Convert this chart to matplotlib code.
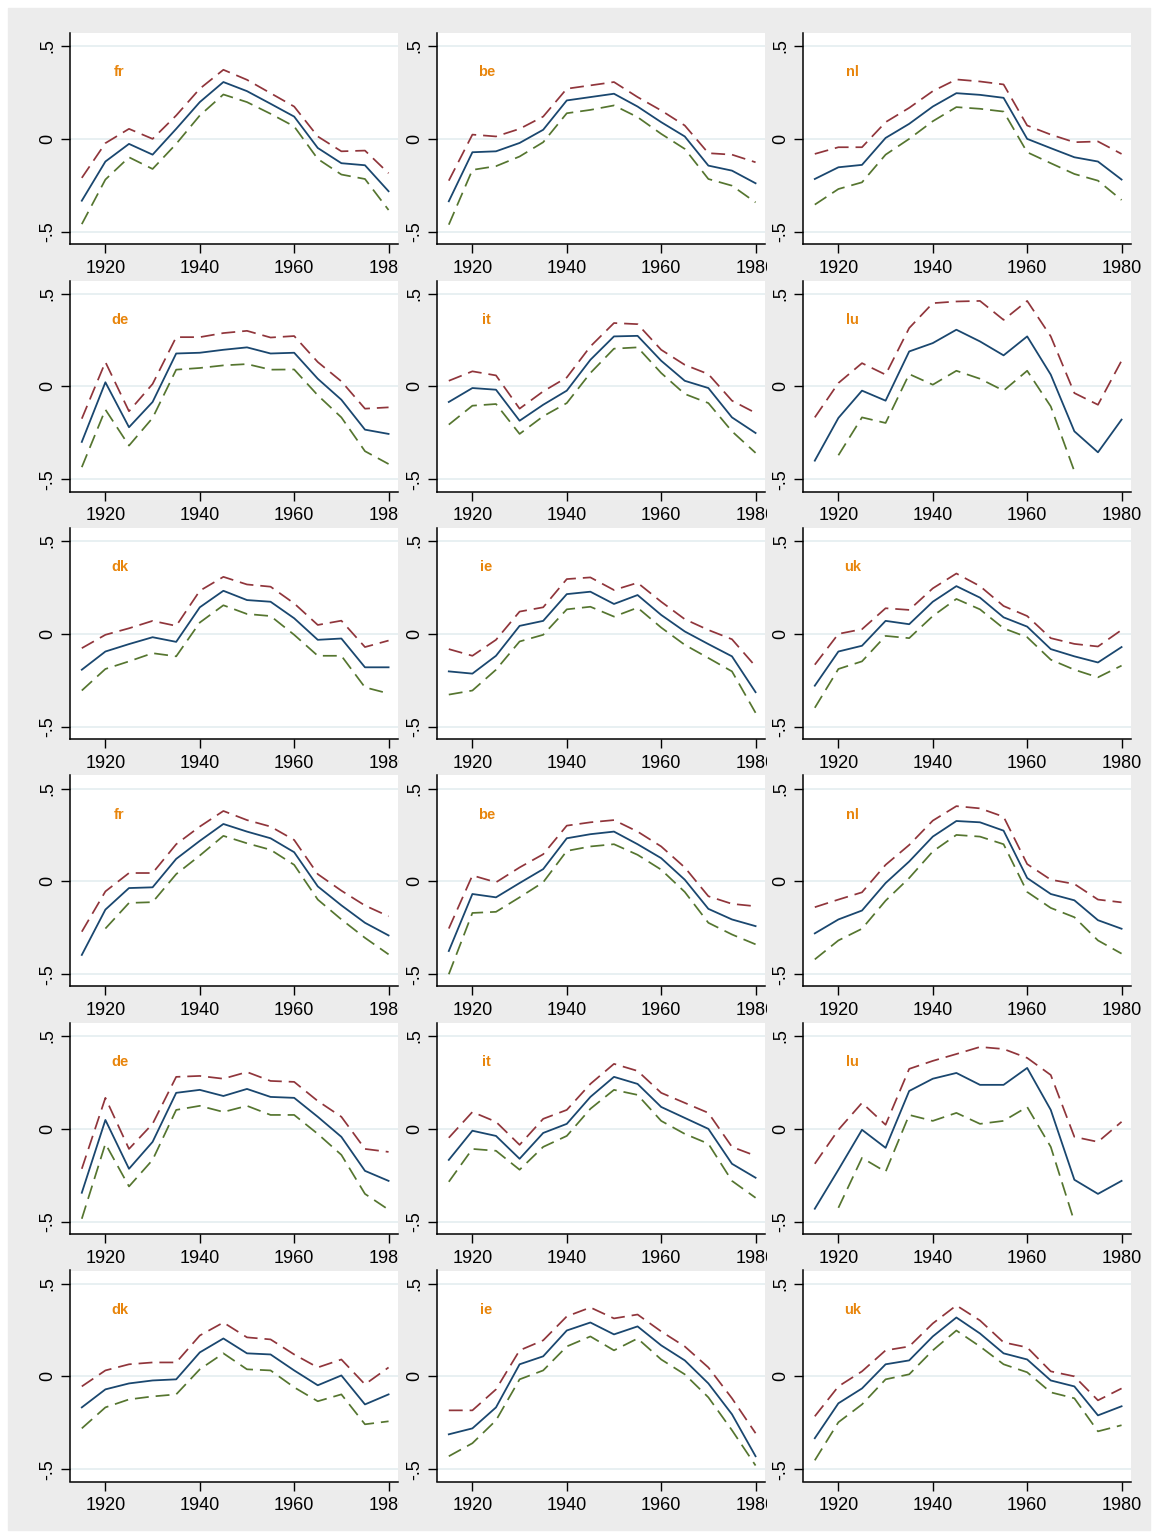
import numpy as np
import matplotlib
matplotlib.use("Agg")
import matplotlib.pyplot as plt
from matplotlib.patches import Rectangle
from matplotlib.transforms import Bbox, TransformedBbox

nan = np.nan

YEARS = [1915, 1920, 1925, 1930, 1935, 1940, 1945, 1950, 1955, 1960, 1965, 1970, 1975, 1980]
LABELS = ["fr", "be", "nl", "de", "it", "lu", "dk", "ie", "uk",
          "fr", "be", "nl", "de", "it", "lu", "dk", "ie", "uk"]

# point estimate (solid navy line), one row per panel
EST = [
    [-0.333, -0.122, -0.027, -0.085, 0.054, 0.198, 0.306, 0.257, 0.189, 0.120, -0.049, -0.131, -0.142, -0.282],
    [-0.336, -0.072, -0.067, -0.022, 0.049, 0.207, 0.225, 0.243, 0.174, 0.090, 0.013, -0.144, -0.171, -0.239],
    [-0.216, -0.153, -0.140, 0.005, 0.081, 0.174, 0.246, 0.237, 0.221, 0.000, -0.050, -0.099, -0.122, -0.219],
    [-0.299, 0.022, -0.220, -0.084, 0.177, 0.181, 0.197, 0.210, 0.177, 0.181, 0.041, -0.072, -0.233, -0.256],
    [-0.084, -0.009, -0.018, -0.185, -0.099, -0.023, 0.143, 0.269, 0.272, 0.138, 0.030, -0.009, -0.167, -0.251],
    [-0.400, -0.170, -0.023, -0.077, 0.188, 0.233, 0.305, 0.242, 0.167, 0.269, 0.063, -0.242, -0.355, -0.179],
    [-0.193, -0.095, -0.055, -0.018, -0.043, 0.143, 0.232, 0.182, 0.173, 0.084, -0.032, -0.025, -0.180, -0.180],
    [-0.202, -0.214, -0.118, 0.043, 0.070, 0.214, 0.227, 0.161, 0.209, 0.102, 0.013, -0.055, -0.121, -0.314],
    [-0.279, -0.095, -0.064, 0.070, 0.052, 0.173, 0.257, 0.195, 0.089, 0.039, -0.082, -0.121, -0.154, -0.071],
    [-0.396, -0.152, -0.036, -0.032, 0.121, 0.218, 0.309, 0.268, 0.232, 0.157, -0.027, -0.129, -0.223, -0.291],
    [-0.375, -0.068, -0.086, -0.009, 0.066, 0.232, 0.254, 0.268, 0.200, 0.125, 0.009, -0.148, -0.205, -0.241],
    [-0.280, -0.205, -0.157, -0.009, 0.107, 0.241, 0.325, 0.318, 0.273, 0.018, -0.068, -0.102, -0.209, -0.255],
    [-0.344, 0.048, -0.215, -0.070, 0.194, 0.210, 0.177, 0.215, 0.172, 0.167, 0.065, -0.043, -0.226, -0.280],
    [-0.167, -0.010, -0.038, -0.161, -0.022, 0.027, 0.172, 0.280, 0.242, 0.118, 0.059, 0.000, -0.188, -0.263],
    [-0.430, -0.220, -0.005, -0.102, 0.204, 0.270, 0.301, 0.237, 0.237, 0.328, 0.102, -0.274, -0.350, -0.280],
    [-0.167, -0.070, -0.038, -0.022, -0.016, 0.129, 0.204, 0.124, 0.118, 0.032, -0.048, 0.005, -0.151, -0.097],
    [-0.312, -0.280, -0.167, 0.065, 0.108, 0.247, 0.290, 0.226, 0.269, 0.167, 0.086, -0.038, -0.204, -0.430],
    [-0.333, -0.145, -0.065, 0.065, 0.086, 0.215, 0.317, 0.231, 0.124, 0.091, -0.022, -0.054, -0.210, -0.161],
]

# upper band (maroon dashed)
UPPER = [
    [-0.210, -0.023, 0.054, 0.000, 0.126, 0.270, 0.372, 0.318, 0.246, 0.174, 0.013, -0.067, -0.063, -0.185],
    [-0.225, 0.023, 0.013, 0.054, 0.120, 0.270, 0.288, 0.306, 0.225, 0.153, 0.072, -0.077, -0.085, -0.126],
    [-0.081, -0.045, -0.045, 0.090, 0.167, 0.257, 0.320, 0.309, 0.293, 0.072, 0.023, -0.018, -0.014, -0.081],
    [-0.174, 0.131, -0.134, 0.013, 0.265, 0.265, 0.287, 0.299, 0.263, 0.271, 0.131, 0.027, -0.120, -0.113],
    [0.030, 0.081, 0.059, -0.120, -0.027, 0.048, 0.215, 0.341, 0.335, 0.197, 0.116, 0.066, -0.077, -0.143],
    [-0.167, 0.018, 0.125, 0.063, 0.314, 0.448, 0.457, 0.460, 0.358, 0.460, 0.269, -0.036, -0.099, 0.138],
    [-0.077, -0.005, 0.030, 0.070, 0.043, 0.232, 0.307, 0.266, 0.254, 0.164, 0.048, 0.071, -0.071, -0.036],
    [-0.082, -0.118, -0.032, 0.120, 0.143, 0.295, 0.304, 0.236, 0.275, 0.173, 0.079, 0.021, -0.029, -0.175],
    [-0.166, 0.000, 0.025, 0.138, 0.129, 0.245, 0.325, 0.257, 0.150, 0.096, -0.023, -0.054, -0.068, 0.021],
    [-0.271, -0.054, 0.045, 0.045, 0.200, 0.295, 0.379, 0.330, 0.295, 0.223, 0.039, -0.050, -0.130, -0.188],
    [-0.254, 0.032, -0.005, 0.075, 0.146, 0.300, 0.318, 0.330, 0.268, 0.188, 0.075, -0.080, -0.121, -0.134],
    [-0.139, -0.098, -0.059, 0.089, 0.196, 0.327, 0.405, 0.393, 0.348, 0.093, 0.009, -0.014, -0.098, -0.113],
    [-0.215, 0.167, -0.108, 0.027, 0.280, 0.285, 0.270, 0.306, 0.258, 0.253, 0.150, 0.065, -0.108, -0.124],
    [-0.048, 0.091, 0.038, -0.086, 0.054, 0.102, 0.242, 0.350, 0.312, 0.194, 0.140, 0.086, -0.097, -0.145],
    [-0.188, -0.005, 0.140, 0.022, 0.323, 0.366, 0.403, 0.441, 0.430, 0.382, 0.290, -0.043, -0.070, 0.038],
    [-0.054, 0.032, 0.065, 0.075, 0.075, 0.220, 0.290, 0.210, 0.199, 0.118, 0.048, 0.091, -0.043, 0.048],
    [-0.183, -0.183, -0.070, 0.140, 0.194, 0.323, 0.371, 0.312, 0.333, 0.242, 0.161, 0.048, -0.118, -0.306],
    [-0.215, -0.054, 0.027, 0.140, 0.161, 0.285, 0.382, 0.301, 0.183, 0.156, 0.027, 0.000, -0.129, -0.065],
]

# lower band (green dashed)
LOWER = [
    [-0.459, -0.219, -0.099, -0.162, -0.027, 0.126, 0.239, 0.198, 0.135, 0.067, -0.108, -0.192, -0.216, -0.383],
    [-0.462, -0.167, -0.147, -0.095, -0.018, 0.138, 0.156, 0.180, 0.117, 0.027, -0.054, -0.216, -0.252, -0.342],
    [-0.354, -0.270, -0.234, -0.085, 0.000, 0.095, 0.171, 0.162, 0.147, -0.072, -0.131, -0.189, -0.225, -0.329],
    [-0.435, -0.125, -0.319, -0.170, 0.090, 0.099, 0.113, 0.120, 0.090, 0.091, -0.048, -0.167, -0.349, -0.418],
    [-0.206, -0.104, -0.095, -0.256, -0.161, -0.090, 0.072, 0.203, 0.210, 0.072, -0.041, -0.090, -0.242, -0.358],
    [nan, -0.371, -0.167, -0.197, 0.066, 0.009, 0.084, 0.041, -0.023, 0.084, -0.108, -0.457, nan, nan],
    [-0.305, -0.189, -0.148, -0.104, -0.121, 0.061, 0.154, 0.107, 0.096, -0.005, -0.118, -0.118, -0.288, -0.321],
    [-0.327, -0.305, -0.193, -0.041, -0.005, 0.132, 0.146, 0.093, 0.141, 0.034, -0.059, -0.130, -0.202, -0.425],
    [-0.398, -0.189, -0.148, -0.011, -0.023, 0.096, 0.188, 0.132, 0.030, -0.018, -0.139, -0.193, -0.234, -0.171],
    [nan, -0.254, -0.116, -0.112, 0.039, 0.139, 0.245, 0.205, 0.170, 0.089, -0.098, -0.205, -0.304, -0.393],
    [-0.500, -0.170, -0.164, -0.086, -0.005, 0.164, 0.188, 0.200, 0.143, 0.063, -0.057, -0.223, -0.286, -0.339],
    [-0.420, -0.318, -0.255, -0.104, 0.018, 0.161, 0.250, 0.241, 0.200, -0.057, -0.143, -0.193, -0.318, -0.389],
    [-0.484, -0.080, -0.310, -0.167, 0.102, 0.124, 0.091, 0.124, 0.075, 0.075, -0.027, -0.140, -0.350, -0.435],
    [-0.285, -0.108, -0.118, -0.220, -0.097, -0.038, 0.108, 0.210, 0.183, 0.043, -0.027, -0.080, -0.280, -0.371],
    [nan, -0.425, -0.156, -0.231, 0.075, 0.043, 0.086, 0.027, 0.043, 0.118, -0.097, -0.500, nan, nan],
    [-0.280, -0.167, -0.124, -0.108, -0.097, 0.038, 0.124, 0.038, 0.032, -0.059, -0.134, -0.097, -0.258, -0.242],
    [-0.430, -0.360, -0.237, -0.016, 0.032, 0.161, 0.215, 0.140, 0.204, 0.091, 0.011, -0.113, -0.290, -0.480],
    [-0.452, -0.247, -0.151, -0.016, 0.011, 0.140, 0.247, 0.161, 0.065, 0.022, -0.086, -0.118, -0.296, -0.263],
]

NAVY = "#1a476f"
MAROON = "#90353b"
GREEN = "#55752f"
ORANGE = "#e8850c"
BG = "#ececec"
GRID = "#e4edf0"
DASH = (0, (10, 5))

W, H = 1157, 1537
plt.rcParams["font.family"] = ["Liberation Sans", "DejaVu Sans"]
plt.rcParams["lines.scale_dashes"] = False

fig = plt.figure(figsize=(W / 100, H / 100), dpi=100, facecolor="white")
fig.patches.append(Rectangle((8 / W, 1 - 1530 / H), 1142 / W, 1522 / H,
                             transform=fig.transFigure, color=BG, zorder=-10))

col_left = [70, 437, 803]
col_w = 328
row_top0, row_step, row_h = 33, 247.5, 211
clip_right = [399, 767, None]

for i in range(18):
    r, c = divmod(i, 3)
    top = row_top0 + r * row_step
    ax = fig.add_axes([col_left[c] / W, 1 - (top + row_h) / H, col_w / W, row_h / H])
    ax.set_facecolor("white")

    ax.plot(YEARS, UPPER[i], color=MAROON, lw=1.25, linestyle=DASH)
    ax.plot(YEARS, LOWER[i], color=GREEN, lw=1.25, linestyle=DASH)
    ax.plot(YEARS, EST[i], color=NAVY, lw=1.3)
    ax.text(1923, 0.36, LABELS[i], color=ORANGE, fontsize=10.5, fontweight="bold",
            ha="center", va="center")

    ax.set_xlim(1912.5, 1982)
    ax.set_ylim(-0.566, 0.570)
    ax.set_xticks([1920, 1940, 1960, 1980])
    ax.set_yticks([-0.5, 0, 0.5])
    ax.set_yticklabels(["-.5", "0", ".5"], rotation=90, va="center")
    ax.grid(True, axis="y", color=GRID, lw=1.2)
    ax.set_axisbelow(True)
    for s in ("top", "right"):
        ax.spines[s].set_visible(False)
    for s in ("left", "bottom"):
        ax.spines[s].set_linewidth(1.1)
        ax.spines[s].set_color("black")
    ax.tick_params(axis="both", length=6.5, width=1.0, labelsize=13, color="black")
    ax.tick_params(axis="x", pad=5)
    ax.tick_params(axis="y", pad=3.5)

    if clip_right[c] is not None:
        box = TransformedBbox(Bbox([[0, 0], [clip_right[c] / W, 1]]), fig.transFigure)
        for tick in ax.xaxis.get_major_ticks():
            tick.label1.set_clip_box(box)
            tick.label1.set_clip_on(True)

fig.savefig("out.png", dpi=100, facecolor=fig.get_facecolor())
